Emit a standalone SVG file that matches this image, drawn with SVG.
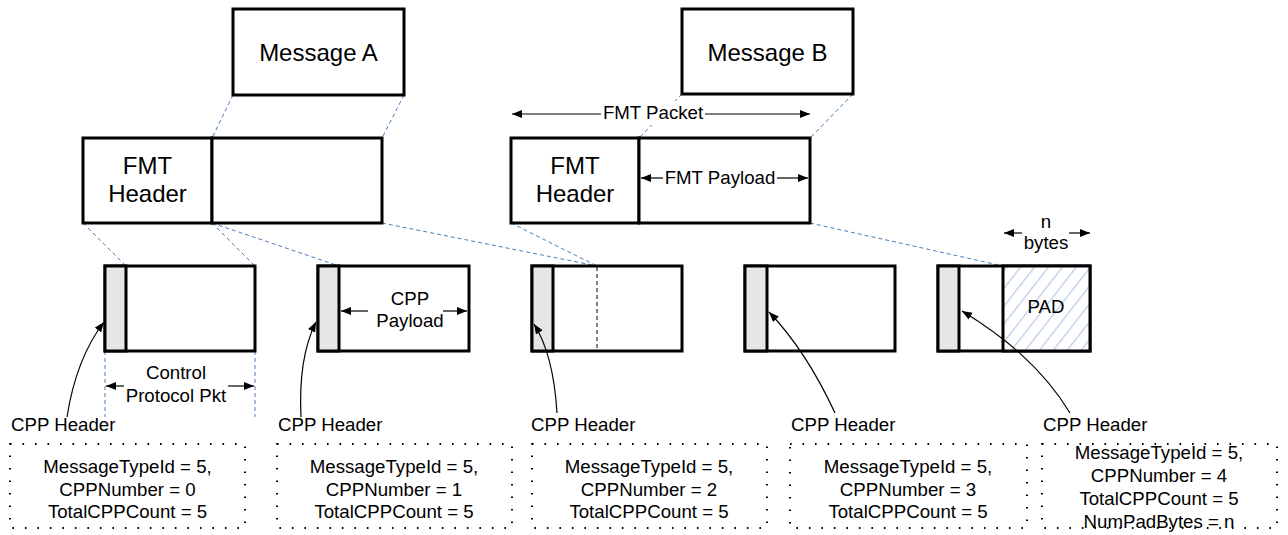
<svg xmlns="http://www.w3.org/2000/svg" width="1288" height="535" viewBox="0 0 1288 535">
<style>
text{font-family:"Liberation Sans",Arial,sans-serif;fill:#000}
.t24{font-size:24px;text-anchor:middle}
.t19{font-size:18.67px;text-anchor:middle}
.lbl{font-size:18.67px}
.box{fill:#fff;stroke:#000;stroke-width:3}
.hdr{fill:#e6e6e6;stroke:#000;stroke-width:3}
.blue{fill:none;stroke:#4a7ebb;stroke-width:1;stroke-dasharray:4 3}
.arr{fill:none;stroke:#000;stroke-width:1.2;marker-end:url(#ah)}
.dot{fill:none;stroke:#000;stroke-width:2;stroke-dasharray:1.6 10.9}
</style>
<defs>
<marker id="ah" markerUnits="userSpaceOnUse" markerWidth="11" markerHeight="9" refX="10" refY="4" orient="auto">
<path d="M0,0 L10,4 L0,8 z" fill="#000"/>
</marker>
<pattern id="hatch" patternUnits="userSpaceOnUse" width="11" height="11" patternTransform="rotate(38)">
<rect width="11" height="11" fill="#fff"/>
<line x1="0" y1="0" x2="0" y2="11" stroke="#b9cce8" stroke-width="2.5"/>
</pattern>
</defs>

<g id="connectors">
<line class="blue" x1="233" y1="95" x2="212" y2="138"/>
<line class="blue" x1="404" y1="95" x2="382" y2="138"/>
<line class="blue" x1="682" y1="94" x2="639" y2="138"/>
<line class="blue" x1="853" y1="94" x2="810" y2="138"/>
<line class="blue" x1="83" y1="223" x2="126" y2="266"/>
<line class="blue" x1="212" y1="223" x2="255" y2="266"/>
<line class="blue" x1="212" y1="223" x2="339" y2="266"/>
<line class="blue" x1="382" y1="223" x2="597" y2="266"/>
<line class="blue" x1="511" y1="223" x2="597" y2="266"/>
<line class="blue" x1="810" y1="223" x2="1003" y2="266"/>
<line class="blue" x1="105" y1="351" x2="105" y2="417"/>
<line class="blue" x1="255" y1="351" x2="255" y2="417"/>
</g>

<g id="messageA">
<rect class="box" x="233" y="9" width="171" height="86"/>
<text class="t24" x="318.5" y="61">Message A</text>
</g>
<g id="messageB">
<rect class="box" x="682" y="9" width="171" height="85"/>
<text class="t24" x="767.5" y="61">Message B</text>
</g>

<g id="fmtA">
<rect class="box" x="83" y="138" width="129" height="85"/>
<rect class="box" x="212" y="138" width="170" height="85"/>
<text class="t24" x="147.5" y="174">FMT</text>
<text class="t24" x="147.5" y="202">Header</text>
</g>

<g id="fmtPacket">
<rect x="600" y="101" width="106" height="24" fill="#fff"/>
<text class="t19" x="653" y="119">FMT Packet</text>
<line class="arr" x1="601" y1="114" x2="512" y2="114"/>
<line class="arr" x1="705" y1="114" x2="810" y2="114"/>
</g>

<g id="fmtB">
<rect class="box" x="511" y="138" width="128" height="85"/>
<rect class="box" x="639" y="138" width="171" height="85"/>
<text class="t24" x="575" y="174">FMT</text>
<text class="t24" x="575" y="202">Header</text>
<text class="t19" x="720" y="184">FMT Payload</text>
<line class="arr" x1="663" y1="178" x2="641" y2="178"/>
<line class="arr" x1="777" y1="178" x2="808" y2="178"/>
</g>

<g id="cpp1">
<rect class="box" x="105" y="266" width="150" height="85"/>
<rect class="hdr" x="105" y="266" width="21" height="85"/>
<text class="t19" x="176" y="379">Control</text>
<text class="t19" x="176" y="401.5">Protocol Pkt</text>
<line class="arr" x1="124" y1="386" x2="106" y2="386"/>
<line class="arr" x1="228" y1="386" x2="254" y2="386"/>
<text class="lbl" x="11" y="431">CPP Header</text>
<path class="arr" d="M67,417 C74,372 88,343 104,322"/>
</g>

<g id="cpp2">
<rect class="box" x="318" y="266" width="151" height="85"/>
<rect class="hdr" x="318" y="266" width="21" height="85"/>
<text class="t19" x="410" y="305">CPP</text>
<text class="t19" x="410" y="327">Payload</text>
<line class="arr" x1="368" y1="311" x2="341" y2="311"/>
<line class="arr" x1="443" y1="311" x2="467" y2="311"/>
<text class="lbl" x="278" y="431">CPP Header</text>
<path class="arr" d="M301,417 C299,376 304,346 316,322"/>
</g>

<g id="cpp3">
<rect class="box" x="532" y="266" width="150" height="85"/>
<rect class="hdr" x="532" y="266" width="21" height="85"/>
<line x1="597" y1="267" x2="597" y2="350" stroke="#000" stroke-width="1" stroke-dasharray="4 3"/>
<text class="lbl" x="531" y="431">CPP Header</text>
<path class="arr" d="M557,413 C555,380 548,346 534,324"/>
</g>

<g id="cpp4">
<rect class="box" x="745" y="266" width="150" height="85"/>
<rect class="hdr" x="745" y="266" width="22" height="85"/>
<text class="lbl" x="791" y="431">CPP Header</text>
<path class="arr" d="M835,413 C816,372 792,336 769,312"/>
</g>

<g id="cpp5">
<rect class="box" x="938" y="266" width="152" height="85"/>
<rect x="1003" y="266" width="87" height="85" fill="url(#hatch)" stroke="#000" stroke-width="3"/>
<rect class="hdr" x="938" y="266" width="21" height="85"/>
<text class="t19" x="1046" y="313">PAD</text>
<text class="t19" x="1046" y="228">n</text>
<text class="t19" x="1046" y="249">bytes</text>
<line class="arr" x1="1022" y1="233" x2="1004" y2="233"/>
<line class="arr" x1="1069" y1="233" x2="1090" y2="233"/>
<text class="lbl" x="1043" y="431">CPP Header</text>
<path class="arr" d="M1070,413 C1042,367 1003,336 962,311"/>
</g>

<g id="info1">
<rect class="dot" x="10" y="444" width="235" height="84"/>
<text class="t19" x="127.5" y="473">MessageTypeId = 5,</text>
<text class="t19" x="127.5" y="495.5">CPPNumber = 0</text>
<text class="t19" x="127.5" y="518">TotalCPPCount = 5</text>
</g>
<g id="info2">
<rect class="dot" x="277" y="444" width="235" height="84"/>
<text class="t19" x="394" y="473">MessageTypeId = 5,</text>
<text class="t19" x="394" y="495.5">CPPNumber = 1</text>
<text class="t19" x="394" y="518">TotalCPPCount = 5</text>
</g>
<g id="info3">
<rect class="dot" x="532" y="444" width="235" height="84"/>
<text class="t19" x="649" y="473">MessageTypeId = 5,</text>
<text class="t19" x="649" y="495.5">CPPNumber = 2</text>
<text class="t19" x="649" y="518">TotalCPPCount = 5</text>
</g>
<g id="info4">
<rect class="dot" x="790" y="444" width="237" height="84"/>
<text class="t19" x="908" y="473">MessageTypeId = 5,</text>
<text class="t19" x="908" y="495.5">CPPNumber = 3</text>
<text class="t19" x="908" y="518">TotalCPPCount = 5</text>
</g>
<g id="info5">
<rect class="dot" x="1042" y="444" width="235" height="84"/>
<text class="t19" x="1159" y="459">MessageTypeId = 5,</text>
<text class="t19" x="1159" y="482">CPPNumber = 4</text>
<text class="t19" x="1159" y="505">TotalCPPCount = 5</text>
<text class="t19" x="1159" y="528">NumPadBytes = n</text>
</g>
</svg>
